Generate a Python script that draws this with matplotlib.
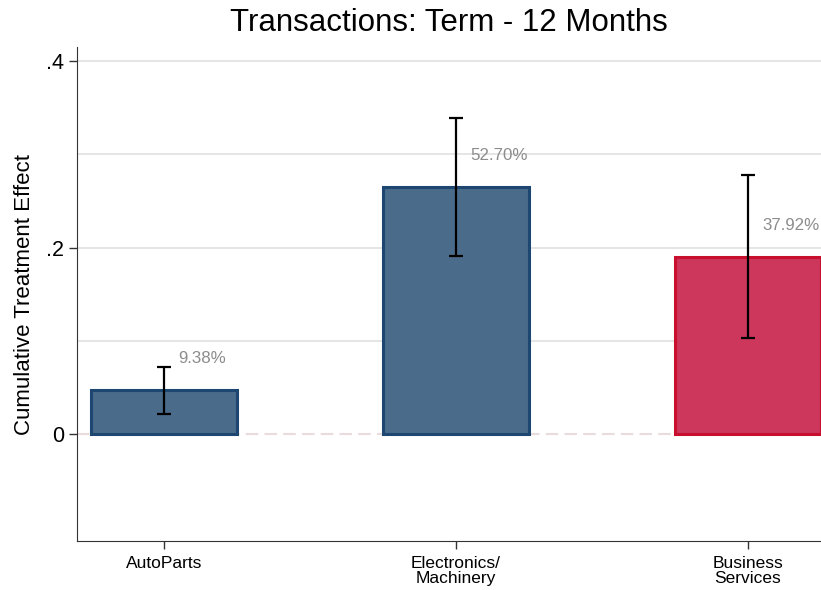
import matplotlib
matplotlib.use('Agg')
import matplotlib.pyplot as plt
import matplotlib.font_manager as fm

# data
categories = ['AutoParts', 'Electronics/\nMachinery', 'Business\nServices']
effects = [0.0466, 0.265, 0.190]
ci_low = [0.0214, 0.191, 0.103]
ci_high = [0.0718, 0.339, 0.278]
pct_labels = ['9.38%', '52.70%', '37.92%']
fill_colors = ['#4a6b8a', '#4a6b8a', '#cd375c']
edge_colors = ['#1d4770', '#1d4770', '#c8102e']

plt.rcParams['font.family'] = ['Liberation Sans', 'DejaVu Sans']

narrow = 'Liberation Sans Narrow'
names = {f.name for f in fm.fontManager.ttflist}
if narrow not in names:
    narrow = 'Liberation Sans'

fig = plt.figure(figsize=(8.21, 5.90), dpi=100)
ax = fig.add_axes([0.0938, 0.083, 0.9062, 0.837])

x = list(range(len(categories)))
ax.bar(x, effects, width=0.5, color=fill_colors, edgecolor=edge_colors,
       linewidth=2.2, zorder=3)
yerr = [[e - lo for e, lo in zip(effects, ci_low)],
        [hi - e for e, hi in zip(effects, ci_high)]]
ax.errorbar(x, effects, yerr=yerr, fmt='none', ecolor='black',
            elinewidth=1.6, capsize=5, capthick=1.6, zorder=4)

for xi, e, lab in zip(x, effects, pct_labels):
    ax.text(xi + 0.05, e + 0.034, lab, ha='left', va='center',
            fontsize=12.2, color='#8c8c8c', zorder=5)

ax.axhline(0, color='#eadcdc', lw=1.5, ls=(0, (6, 3)), zorder=1)
for g in [0.1, 0.2, 0.3, 0.4]:
    ax.axhline(g, color='#e0e0e0', lw=1.2, zorder=0)

ax.set_xlim(-0.298, 2.25)
ax.set_ylim(-0.115, 0.415)
ax.set_yticks([0, 0.2, 0.4])
ax.set_yticklabels(['0', '.2', '.4'], fontsize=15.5)
ax.set_xticks(x)
ax.set_xticklabels(categories, fontsize=12.5, family=narrow, linespacing=0.95)
ax.tick_params(axis='both', length=6, width=1, color='#333333')
ax.tick_params(axis='x', pad=5)

ax.spines['top'].set_visible(False)
ax.spines['right'].set_visible(False)
ax.spines['left'].set_color('#333333')
ax.spines['bottom'].set_color('#333333')

ax.set_ylabel('Cumulative Treatment Effect', fontsize=16, labelpad=8)
ax.set_title('Transactions: Term - 12 Months', fontsize=22.5, pad=12)

fig.savefig('out.png', dpi=100)
